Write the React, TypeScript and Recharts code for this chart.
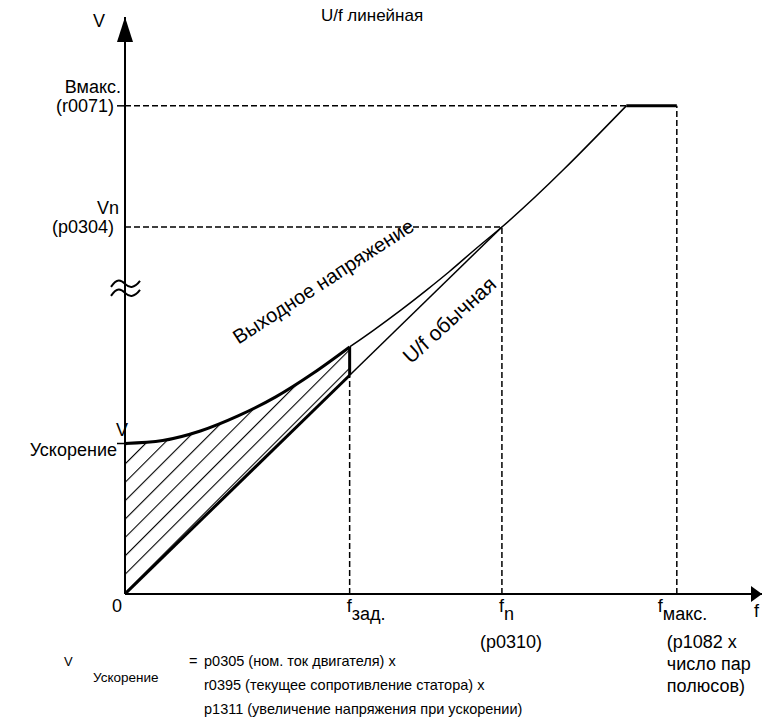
import React from 'react';
import { ComposedChart, Line, Area, XAxis, YAxis, ReferenceLine, ReferenceDot } from 'recharts';

// key frequencies / voltages (f in Hz-like units, V in % of Vn)
const F_ZAD = 29.8;
const F_N = 50;
const F_KNEE = 66.5;
const F_MAX = 73.2;
const F_END = 84.5;
const V_BOOST = 41;
const V_N = 100;
const V_MAX = 133;
const V_END = 157.2;
const V_BREAK = 83.4;

// boost curve (bold) up to f_зад
const boostF = [0, 5, 10, 15, 20, 25, 29.8];
const boostV = [41, 41.8, 44.4, 48.5, 53.7, 60.2, 67.3];
// U/f normal line at the same frequencies (lower edge of hatching)
const ufV = [0, 10, 20, 30, 40, 50, 59.6];
// output voltage after f_зад
const outF = [29.8, 33, 36.5, 40, 43, 46.5, 50, 66.5];
const outV = [67.3, 71.9, 77.2, 82.8, 87.8, 94, 100, 133];

const xTicks = [0, F_ZAD, F_N, F_MAX];
const xMain = ['0', 'f', 'f', 'f'];
const xSub = ['', 'зад.', 'n', 'макс.'];
const xNotes = [[], [], ['(p0310)'], ['(p1082 x', 'число пар', 'полюсов)']];

const yTicks = [V_BOOST, V_N, V_MAX];
const yTop = ['V', 'Vn', 'Вмакс.'];
const yBottom = ['Ускорение', '(p0304)', '(r0071)'];

const footerLines = [
  'p0305 (ном. ток двигателя) x',
  'r0395 (текущее сопротивление статора) x',
  'p1311 (увеличение напряжения при ускорении)',
];

const FONT = '"Liberation Sans", Arial, sans-serif';

const pts = (fs: number[], vs: number[]) => fs.map((f, i) => ({ f, v: vs[i] }));
const boostData = pts(boostF, boostV);
const hatchData = boostF.map((f, i) => ({ f, v: [ufV[i], boostV[i]] }));
const outData = pts(outF, outV);
const flatData = pts([F_KNEE, F_MAX], [V_MAX, V_MAX]);
const ufBold = pts([0, F_ZAD], [0, ufV[ufV.length - 1]]);
const ufThin = pts([F_ZAD, F_N], [ufV[ufV.length - 1], V_N]);
const zadJump = pts([F_ZAD, F_ZAD], [ufV[ufV.length - 1], boostV[boostV.length - 1]]);

const XTick = (props: any) => {
  const { x, y, index } = props;
  if (index === 0) {
    return <text x={x - 8} y={y + 18} textAnchor="middle" fontSize={18} fontFamily={FONT}>0</text>;
  }
  return (
    <g fontFamily={FONT} fontSize={18} fill="#000">
      <text x={index === 3 ? x - 19 : x - 3} y={y + 18}>
        {xMain[index]}
        <tspan dy={8}>{xSub[index]}</tspan>
      </text>
      {xNotes[index].map((t, i) => (
        <text key={i} x={index === 2 ? x - 22 : x - 10} y={y + 54 + i * 22}>{t}</text>
      ))}
    </g>
  );
};

const YTick = (props: any) => {
  const { x, y, index } = props;
  return (
    <g fontFamily={FONT} fontSize={18} fill="#000">
      {index !== 1 && <line x1={x - 8} x2={x} y1={y} y2={y} stroke="#000" strokeWidth={1.5} />}
      {index === 0 ? (
        <>
          <text x={x - 3} y={y - 8} textAnchor="middle">{yTop[index]}</text>
          <text x={x - 8} y={y + 12} textAnchor="end">{yBottom[index]}</text>
        </>
      ) : (
        <>
          <text x={x - (index === 2 ? 4 : 6)} y={y - 13} textAnchor="end">{yTop[index]}</text>
          <text x={x - 11} y={y + 6} textAnchor="end">{yBottom[index]}</text>
        </>
      )}
    </g>
  );
};

const ArrowRight = (p: any) => (
  <polygon points={`${p.cx},${p.cy} ${p.cx - 11},${p.cy - 8} ${p.cx - 11},${p.cy + 8}`} fill="#000" />
);
const ArrowUp = (p: any) => (
  <polygon points={`${p.cx},${p.cy} ${p.cx - 8},${p.cy + 25} ${p.cx + 8},${p.cy + 25}`} fill="#000" />
);
const BreakMark = (p: any) => (
  <g fill="none" stroke="#000" strokeWidth={2}>
    <path d={`M ${p.cx - 14} ${p.cy - 1} C ${p.cx - 8} ${p.cy - 10} ${p.cx - 4} ${p.cy - 8} ${p.cx} ${p.cy - 4} C ${p.cx + 4} ${p.cy} ${p.cx + 9} ${p.cy + 1} ${p.cx + 15} ${p.cy - 7}`} />
    <path d={`M ${p.cx - 14} ${p.cy + 8} C ${p.cx - 8} ${p.cy - 1} ${p.cx - 4} ${p.cy + 1} ${p.cx} ${p.cy + 5} C ${p.cx + 4} ${p.cy + 9} ${p.cx + 9} ${p.cy + 10} ${p.cx + 15} ${p.cy + 2}`} />
  </g>
);
const rotatedLabel = (text: string, angle: number, size: number) => (p: any) => (
  <text
    x={p.cx}
    y={p.cy}
    textAnchor="middle"
    dominantBaseline="central"
    fontSize={size}
    fontFamily={FONT}
    transform={`rotate(${angle} ${p.cx} ${p.cy})`}
  >
    {text}
  </text>
);

const dash = { stroke: '#000', strokeWidth: 1.5, strokeDasharray: '6 3' };

export default function App() {
  return (
    <div style={{ position: 'absolute', left: 0, top: 0, background: '#fff' }}>
      <ComposedChart width={762} height={720} margin={{ top: 17, right: 0, left: 65, bottom: 96 }}>
        <defs>
          <pattern id="hatch" patternUnits="userSpaceOnUse" width={13} height={13} patternTransform="rotate(45)">
            <line x1={0} y1={0} x2={0} y2={13} stroke="#000" strokeWidth={2.2} />
          </pattern>
        </defs>
        <XAxis
          type="number"
          dataKey="f"
          domain={[0, F_END]}
          ticks={xTicks}
          tick={<XTick />}
          tickLine={false}
          tickSize={0}
          tickMargin={0}
          height={30}
          axisLine={{ stroke: '#000', strokeWidth: 2 }}
          interval={0}
        />
        <YAxis
          type="number"
          domain={[0, V_END]}
          ticks={yTicks}
          tick={<YTick />}
          tickLine={false}
          tickSize={0}
          tickMargin={0}
          width={60}
          axisLine={{ stroke: '#000', strokeWidth: 2 }}
          interval={0}
        />
        <ReferenceLine segment={[{ x: 0, y: V_MAX }, { x: F_KNEE, y: V_MAX }]} {...dash} />
        <ReferenceLine segment={[{ x: F_MAX, y: 0 }, { x: F_MAX, y: V_MAX }]} {...dash} />
        <ReferenceLine segment={[{ x: 0, y: V_N }, { x: F_N, y: V_N }]} {...dash} />
        <ReferenceLine segment={[{ x: F_N, y: 0 }, { x: F_N, y: V_N }]} {...dash} />
        <ReferenceLine segment={[{ x: F_ZAD, y: 0 }, { x: F_ZAD, y: ufV[ufV.length - 1] }]} {...dash} />

        <Area data={hatchData} dataKey="v" type="monotone" stroke="none" fill="url(#hatch)" fillOpacity={1} isAnimationActive={false} dot={false} activeDot={false} />
        <Line data={boostData} dataKey="v" type="monotone" stroke="#000" strokeWidth={3} dot={false} activeDot={false} isAnimationActive={false} />
        <Line data={ufBold} dataKey="v" type="linear" stroke="#000" strokeWidth={3} dot={false} activeDot={false} isAnimationActive={false} />
        <Line data={zadJump} dataKey="v" type="linear" stroke="#000" strokeWidth={3} dot={false} activeDot={false} isAnimationActive={false} />
        <Line data={ufThin} dataKey="v" type="linear" stroke="#000" strokeWidth={1.5} dot={false} activeDot={false} isAnimationActive={false} />
        <Line data={outData} dataKey="v" type="monotone" stroke="#000" strokeWidth={1.5} dot={false} activeDot={false} isAnimationActive={false} />
        <Line data={flatData} dataKey="v" type="linear" stroke="#000" strokeWidth={3} dot={false} activeDot={false} isAnimationActive={false} />

        <ReferenceDot x={F_END} y={0} r={0} shape={ArrowRight} ifOverflow="visible" />
        <ReferenceDot x={0} y={V_END} r={0} shape={ArrowUp} ifOverflow="visible" />
        <ReferenceDot x={0} y={V_BREAK} r={0} shape={BreakMark} ifOverflow="visible" />
        <ReferenceDot x={26.3} y={85.2} r={0} shape={rotatedLabel('Выходное напряжение', -33, 20)} ifOverflow="visible" />
        <ReferenceDot x={43} y={74.7} r={0} shape={rotatedLabel('U/f обычная', -42, 21)} ifOverflow="visible" />

        <g fontFamily={FONT} fill="#000">
          <text x={372} y={21} fontSize={17} textAnchor="middle">U/f линейная</text>
          <text x={99} y={27} fontSize={18} textAnchor="middle">V</text>
          <text x={754} y={617} fontSize={18}>f</text>
          <text x={64} y={666} fontSize={13}>V</text>
          <text x={93} y={682} fontSize={13.5}>Ускорение</text>
          <text x={189} y={666} fontSize={14.5}>=</text>
          {footerLines.map((t, i) => (
            <text key={i} x={204} y={666 + i * 24} fontSize={14.5}>{t}</text>
          ))}
        </g>
      </ComposedChart>
    </div>
  );
}
